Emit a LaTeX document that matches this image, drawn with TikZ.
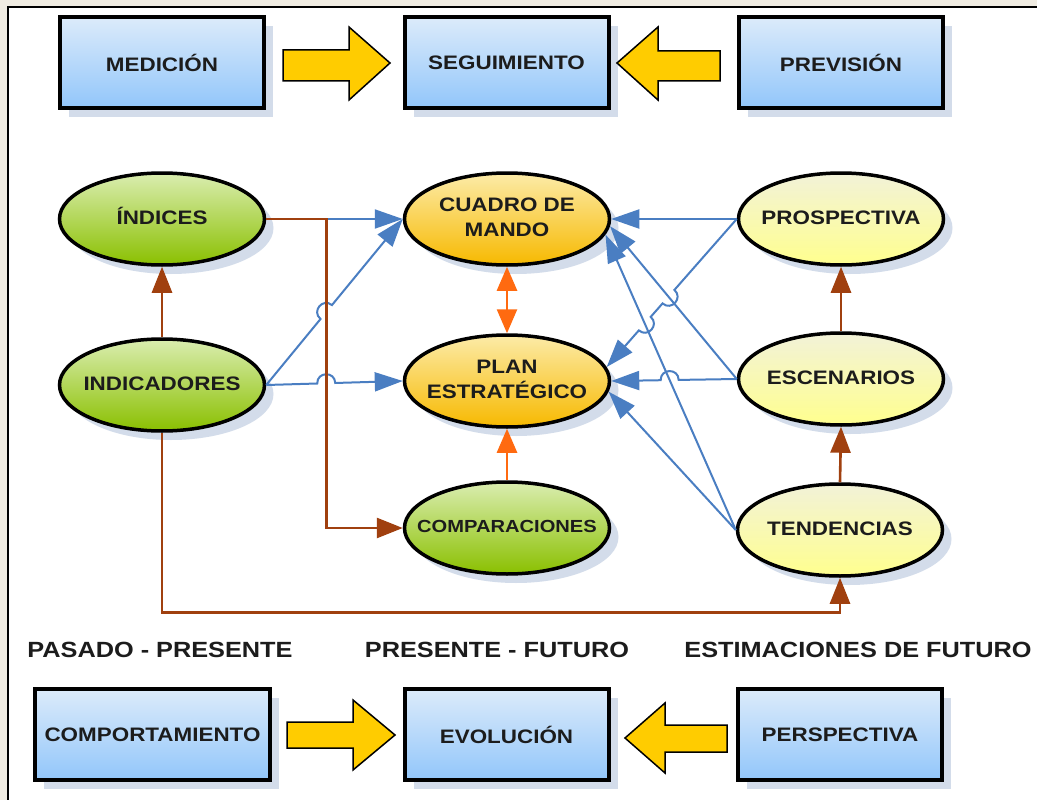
\documentclass[tikz,border=0pt]{standalone}
\usepackage{fontspec}
\setmainfont{Liberation Sans}[FakeStretch=1.15]
\usetikzlibrary{shapes.geometric,arrows.meta,calc,intersections,shadows}
\definecolor{bgbeige}{HTML}{F0ECE2}
\definecolor{txtc}{HTML}{1C1C1C}
\definecolor{boxtop}{HTML}{DCEBFA}
\definecolor{boxbot}{HTML}{92C6FA}
\definecolor{gtop}{HTML}{DAEDB0}
\definecolor{gbot}{HTML}{8AC000}
\definecolor{otop}{HTML}{FCEBA8}
\definecolor{obot}{HTML}{F7B900}
\definecolor{ytop}{HTML}{F2F2D8}
\definecolor{ybot}{HTML}{FFFF8E}
\definecolor{shadowc}{HTML}{CFD9E8}
\definecolor{bluec}{HTML}{4A7EC2}
\definecolor{brownc}{HTML}{A0400F}
\definecolor{orangec}{HTML}{FF6A10}
\definecolor{arrowyellow}{HTML}{FFCC00}
\newcommand\etx[1]{\makebox[0pt]{\begin{tabular}{@{}c@{}}#1\end{tabular}}}
% hop: crossing point, previous point, next point, angle1, angle2
\newcommand\hop[5]{-- ($(#1)!9pt!(#2)$) .. controls ($(#1)!9pt!(#2)!12pt!#4:(#1)$) and ($(#1)!9pt!(#3)!12pt!#5:(#1)$) .. ($(#1)!9pt!(#3)$)}
\tikzset{
  txtfont/.style={font=\fontsize{19.5}{25}\selectfont\bfseries, text=txtc},
  shadowed/.style={drop shadow={shadow xshift=9pt, shadow yshift=-9pt, fill=shadowc, draw=none, opacity=.9}},
  box/.style={rectangle, draw=black, line width=4pt, minimum width=204pt, minimum height=91pt, inner sep=2pt, top color=boxtop, bottom color=boxbot, txtfont, shadowed},
  ell/.style={ellipse, draw=black, line width=3.5pt, minimum width=205pt, minimum height=92pt, inner sep=0pt, txtfont, shadowed},
  greenfill/.style={top color=gtop, bottom color=gbot},
  orangefill/.style={top color=otop, bottom color=obot},
  yellowfill/.style={top color=ytop, bottom color=ybot},
  lbl/.style={font=\fontsize{22}{26}\selectfont\bfseries, text=txtc, inner sep=0pt},
  bluearr/.style={draw=bluec, line width=2pt, -{Triangle[length=28pt,width=19pt]}},
  brownarr/.style={draw=brownc, line width=2.6pt, -{Triangle[length=26pt,width=20pt]}},
  orangearr/.style={draw=orangec, line width=2.6pt, -{Triangle[length=24pt,width=20pt]}},
  blockarrow/.style={fill=arrowyellow, draw=black, line width=1.5pt, line join=miter},
}
\begin{document}
\begin{tikzpicture}[x=1pt,y=-1pt]
\useasboundingbox (0,0) rectangle (1037,800);
\fill[bgbeige] (0,0) rectangle (1037,800);
\fill[white] (8,7) rectangle (1037,800);
\draw[line width=2pt] (8,800) -- (8,7) -- (1037,7);

% top boxes
\node[box] (medicion) at (162,62.5) {MEDICIÓN};
\node[box] (seguimiento) at (506.5,62.5) {SEGUIMIENTO};
\node[box] (prevision) at (841,62.5) {PREVISIÓN};
% bottom boxes
\node[box, minimum width=235pt] (comportamiento) at (152.5,734.5) {COMPORTAMIENTO};
\node[box] (evolucion) at (506.5,734.5) {EVOLUCIÓN};
\node[box] (perspectiva) at (840,734.5) {PERSPECTIVA};

% block arrows
\draw[blockarrow] (283,50) -- (349,50) -- (349,27) -- (390,63) -- (349,100) -- (349,81) -- (283,81) -- cycle;
\draw[blockarrow] (720,51) -- (658,51) -- (658,27) -- (617,63) -- (658,100) -- (658,81) -- (720,81) -- cycle;
\draw[blockarrow] (287,722) -- (353,722) -- (353,700) -- (395,735) -- (353,770) -- (353,748) -- (287,748) -- cycle;
\draw[blockarrow] (727,725) -- (665,725) -- (665,703) -- (625,738) -- (665,773) -- (665,752) -- (727,752) -- cycle;

% ellipses
\node[ell, greenfill] (indices) at (162,219) {\etx{ÍNDICES}};
\node[ell, greenfill] (indicadores) at (162,385) {\etx{INDICADORES}};
\node[ell, orangefill] (cuadro) at (507,219) {\etx{CUADRO DE\\MANDO}};
\node[ell, orangefill] (plan) at (507,381) {\etx{PLAN\\ESTRATÉGICO}};
\node[ell, greenfill, font=\fontsize{17.5}{22}\selectfont\bfseries] (comparaciones) at (507,528) {\etx{COMPARACIONES}};
\node[ell, yellowfill] (prospectiva) at (841,219) {\etx{PROSPECTIVA}};
\node[ell, yellowfill] (escenarios) at (841,379) {\etx{ESCENARIOS}};
\node[ell, yellowfill] (tendencias) at (840,530) {\etx{TENDENCIAS}};

% labels
\node[lbl] (l1) at (160,650) {PASADO - PRESENTE};
\node[lbl] (l2) at (497,650) {PRESENTE - FUTURO};
\node[lbl] (l3) at (858,650) {ESTIMACIONES DE FUTURO};

% helper coordinates
\coordinate (bk1) at ($(indices.east)+(60,0)$);
\coordinate (bk2) at (bk1 |- comparaciones.west);
\path[name path=vb] (bk1) -- (bk2);
\path[name path=ic] (indicadores.east) -- (cuadro.west);
\path[name path=ip] (indicadores.east) -- (plan.west);
\path[name intersections={of=vb and ic, by=x1}];
\path[name intersections={of=vb and ip, by=x2}];
\path[name path=ec] (escenarios.west) -- (cuadro.-4);
\path[name path=tc] (tendencias.west) -- (cuadro.-9);
\path[name path=pp] (prospectiva.west) -- (plan.8);
\path[name path=ep] (escenarios.west) -- (plan.east);
\path[name intersections={of=pp and ec, by=y1}];
\path[name intersections={of=pp and tc, by=y2}];
\path[name intersections={of=ep and tc, by=y3}];

% blue connectors
\draw[bluearr] (indices.east) -- (cuadro.west);
\draw[bluearr] (indicadores.east) \hop{x1}{indicadores.east}{cuadro.west}{90}{-90} -- (cuadro.west);
\draw[bluearr] (indicadores.east) \hop{x2}{indicadores.east}{plan.west}{90}{-90} -- (plan.west);
\draw[bluearr] (prospectiva.west) -- (cuadro.east);
\draw[bluearr] (prospectiva.west) \hop{y1}{prospectiva.west}{plan.8}{90}{-90} \hop{y2}{prospectiva.west}{plan.8}{90}{-90} -- (plan.8);
\draw[bluearr] (escenarios.west) \hop{y3}{escenarios.west}{plan.east}{-90}{90} -- (plan.east);
\draw[bluearr] (escenarios.west) -- (cuadro.-4);
\draw[bluearr] (tendencias.west) -- (cuadro.-9);
\draw[bluearr] (tendencias.west) -- (plan.-6);

% brown connectors
\draw[brownarr] (indicadores.north) -- (indices.south);
\draw[brownarr] (indicadores.south) -- ++(0,180) -| (tendencias.south);
\draw[brownarr] (indices.east) -- (bk1) -- (bk2) -- (comparaciones.west);
\draw[brownarr] (escenarios.north) -- (prospectiva.south);
\draw[brownarr] (tendencias.north) -- (escenarios.south);

% orange connectors
\draw[orangearr, {Triangle[length=24pt,width=20pt]}-{Triangle[length=24pt,width=20pt]}] (cuadro.south) -- (plan.north);
\draw[orangearr] (comparaciones.north) -- (plan.south);
\end{tikzpicture}
\end{document}
